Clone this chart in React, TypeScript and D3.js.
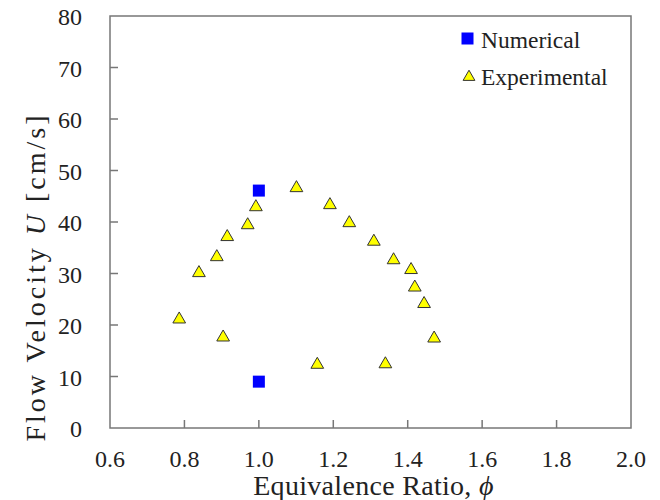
import { useMemo } from 'react';
import * as d3 from 'd3';

// Numerical results
const numPhi = [1.0, 1.0];
const numU = [46.1, 9.0];

// Experimental results
const expPhi = [0.786, 0.839, 0.887, 0.915, 0.970, 0.992, 1.101, 1.191, 1.243, 1.309, 1.362, 1.409, 1.419, 1.444, 1.471, 1.340, 1.157, 0.904];
const expU = [21.3, 30.3, 33.4, 37.3, 39.6, 43.1, 46.8, 43.5, 40.0, 36.4, 32.8, 30.9, 27.5, 24.3, 17.6, 12.6, 12.5, 17.8];

const xTicks = [0.6, 0.8, 1.0, 1.2, 1.4, 1.6, 1.8, 2.0];
const yTicks = [0, 10, 20, 30, 40, 50, 60, 70, 80];

const FONT = "'Liberation Serif', 'Times New Roman', 'DejaVu Serif', serif";

export default function App() {
  const width = 660;
  const height = 500;
  const margin = { top: 16, right: 29, bottom: 72, left: 110 };

  const x = useMemo(() => d3.scaleLinear().domain([0.6, 2.0]).range([margin.left, width - margin.right]), []);
  const y = useMemo(() => d3.scaleLinear().domain([0, 80]).range([height - margin.bottom, margin.top]), []);

  const tri = d3.symbol().type(d3.symbolTriangle).size(70)();
  const triSmall = d3.symbol().type(d3.symbolTriangle).size(60)();

  const x0 = x(0.6), x1 = x(2.0), y0 = y(0), y1 = y(80);
  const tickLen = 8;
  const txt = { fontFamily: FONT, fill: '#222' };

  return (
    <svg width={width} height={height} style={{ position: 'absolute', left: 0, top: 0, background: '#fff', fontFamily: FONT }}>
      {/* frame */}
      <rect x={x0} y={y1} width={x1 - x0} height={y0 - y1} fill="none" stroke="#777" strokeWidth={1.5} />

      {/* x ticks */}
      {xTicks.map((t) => (
        <g key={'x' + t}>
          {t > 0.6 && t < 2.0 && (
            <line x1={x(t)} x2={x(t)} y1={y0} y2={y0 - tickLen} stroke="#777" strokeWidth={1.5} />
          )}
          <text x={x(t)} y={y0 + 39} textAnchor="middle" fontSize={24} style={txt}>
            {t.toFixed(1)}
          </text>
        </g>
      ))}

      {/* y ticks */}
      {yTicks.map((t) => (
        <g key={'y' + t}>
          {t > 0 && t < 80 && (
            <line x1={x0} x2={x0 + tickLen} y1={y(t)} y2={y(t)} stroke="#777" strokeWidth={1.5} />
          )}
          <text x={82} y={y(t) + 9} textAnchor="end" fontSize={24} style={txt}>
            {t}
          </text>
        </g>
      ))}

      {/* numerical squares */}
      {numPhi.map((p, i) => (
        <rect key={'n' + i} x={x(p) - 6} y={y(numU[i]) - 6} width={12} height={12} fill="#0000ff" />
      ))}

      {/* experimental triangles */}
      {expPhi.map((p, i) => (
        <path key={'e' + i} d={tri} transform={`translate(${x(p)},${y(expU[i]) + 1})`} fill="#ffff00" stroke="#333" strokeWidth={1} />
      ))}

      {/* legend */}
      <rect x={461.5} y={32.5} width={12} height={12} fill="#0000ff" />
      <text x={481} y={48} fontSize={23.5} style={txt}>Numerical</text>
      <path d={triSmall} transform="translate(469,77)" fill="#ffff00" stroke="#333" strokeWidth={1} />
      <text x={481} y={85} fontSize={23.5} style={txt}>Experimental</text>

      {/* axis titles */}
      <text x={(x0 + x1) / 2 + 3} y={495} textAnchor="middle" fontSize={28} letterSpacing={0.3} style={txt}>
        Equivalence Ratio, <tspan fontStyle="italic">ϕ</tspan>
      </text>
      <text transform="translate(45,277) rotate(-90)" textAnchor="middle" fontSize={28} letterSpacing={3} style={txt}>
        Flow Velocity <tspan fontStyle="italic">U</tspan>
        <tspan dx={10}>[cm/s]</tspan>
      </text>
    </svg>
  );
}
